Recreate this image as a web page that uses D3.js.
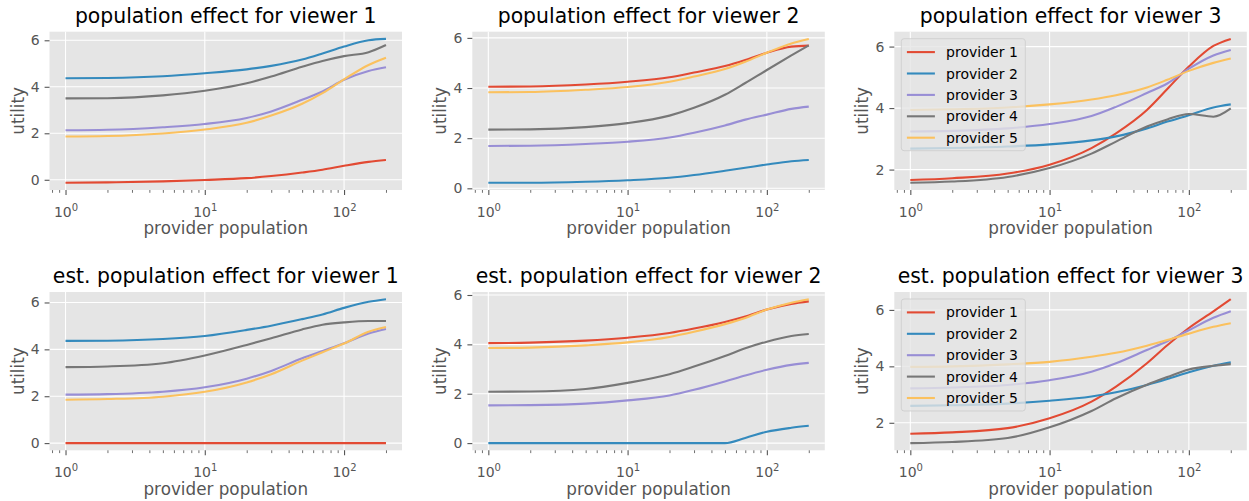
<!DOCTYPE html>
<html>
<head>
<meta charset="utf-8">
<script src="https://cdn.jsdelivr.net/npm/d3@7"></script>
<style>
  body { margin: 0; background: #fff; }
  svg { display: block; }
  text { font-family: "DejaVu Sans", sans-serif; }
</style>
</head>
<body>
<svg id="chart" width="1249" height="501"></svg>
<script>
// provider population sampled on the x axis
const populations = [1, 2, 5, 10, 20, 30, 50, 70, 100, 150, 200];
const providers = ["provider 1", "provider 2", "provider 3", "provider 4", "provider 5"];
const colors = ["#E24A33", "#348ABD", "#988ED5", "#777777", "#FBC15E"];
const titles = [
  "population effect for viewer 1", "population effect for viewer 2", "population effect for viewer 3",
  "est. population effect for viewer 1", "est. population effect for viewer 2", "est. population effect for viewer 3"
];
const xMajorTicks = [1, 10, 100];
const xMinorTicks = [0.8, 0.9, 2, 3, 4, 5, 6, 7, 8, 9, 20, 30, 40, 50, 60, 70, 80, 90, 200];
const yTickValues = [0, 2, 4, 6];

// utility, one row per provider
const popViewer1 = [
  [-0.13, -0.11, -0.07, -0.01, 0.07, 0.16, 0.31, 0.43, 0.60, 0.77, 0.85],
  [4.37, 4.38, 4.45, 4.58, 4.75, 4.90, 5.17, 5.43, 5.73, 6.00, 6.06],
  [2.13, 2.15, 2.26, 2.40, 2.66, 2.94, 3.44, 3.80, 4.30, 4.68, 4.84],
  [3.50, 3.51, 3.63, 3.83, 4.15, 4.44, 4.86, 5.11, 5.32, 5.49, 5.80],
  [1.86, 1.88, 1.99, 2.16, 2.45, 2.76, 3.27, 3.73, 4.32, 4.94, 5.25]
];
const popViewer2 = [
  [4.05, 4.06, 4.14, 4.25, 4.43, 4.62, 4.88, 5.12, 5.41, 5.65, 5.69],
  [0.22, 0.22, 0.26, 0.32, 0.42, 0.53, 0.70, 0.82, 0.95, 1.08, 1.13],
  [1.69, 1.70, 1.77, 1.86, 2.03, 2.22, 2.51, 2.74, 2.94, 3.17, 3.26],
  [2.34, 2.35, 2.44, 2.60, 2.90, 3.21, 3.73, 4.20, 4.72, 5.30, 5.70],
  [3.83, 3.84, 3.93, 4.04, 4.25, 4.46, 4.76, 5.05, 5.41, 5.78, 5.96]
];
const popViewer3 = [
  [1.66, 1.72, 1.87, 2.16, 2.70, 3.18, 3.94, 4.62, 5.35, 6.02, 6.25],
  [2.68, 2.70, 2.75, 2.82, 2.95, 3.08, 3.34, 3.56, 3.77, 4.02, 4.12],
  [3.24, 3.26, 3.34, 3.48, 3.74, 4.04, 4.49, 4.80, 5.28, 5.71, 5.89],
  [1.57, 1.61, 1.76, 2.05, 2.52, 2.91, 3.40, 3.63, 3.81, 3.72, 3.99],
  [3.94, 3.96, 4.02, 4.12, 4.28, 4.42, 4.67, 4.92, 5.21, 5.47, 5.61]
];
const estViewer1 = [
  [0, 0, 0, 0, 0, 0, 0, 0, 0, 0, 0],
  [4.36, 4.37, 4.44, 4.57, 4.83, 5.01, 5.29, 5.49, 5.77, 6.03, 6.14],
  [2.07, 2.09, 2.19, 2.38, 2.75, 3.08, 3.62, 3.93, 4.26, 4.68, 4.87],
  [3.24, 3.27, 3.41, 3.74, 4.19, 4.47, 4.85, 5.05, 5.15, 5.21, 5.21],
  [1.85, 1.88, 1.98, 2.19, 2.59, 2.94, 3.52, 3.88, 4.25, 4.75, 4.95]
];
const estViewer2 = [
  [4.05, 4.07, 4.15, 4.27, 4.46, 4.64, 4.91, 5.13, 5.41, 5.64, 5.74],
  [0, 0, 0, 0, 0, 0, 0, 0.21, 0.46, 0.62, 0.70],
  [1.53, 1.54, 1.60, 1.73, 1.93, 2.16, 2.50, 2.74, 2.97, 3.17, 3.25],
  [2.08, 2.09, 2.19, 2.44, 2.79, 3.10, 3.53, 3.84, 4.11, 4.34, 4.42],
  [3.85, 3.87, 3.96, 4.08, 4.30, 4.51, 4.82, 5.07, 5.41, 5.69, 5.83]
];
const estViewer3 = [
  [1.61, 1.66, 1.81, 2.16, 2.75, 3.28, 4.11, 4.75, 5.36, 5.95, 6.38],
  [2.60, 2.62, 2.68, 2.78, 2.93, 3.08, 3.34, 3.55, 3.79, 4.02, 4.14],
  [3.22, 3.25, 3.34, 3.51, 3.81, 4.11, 4.58, 4.89, 5.28, 5.72, 5.95],
  [1.28, 1.32, 1.46, 1.84, 2.42, 2.87, 3.35, 3.62, 3.89, 4.02, 4.08],
  [3.98, 4.00, 4.07, 4.16, 4.34, 4.48, 4.73, 4.93, 5.16, 5.40, 5.53]
];

const panels = [popViewer1, popViewer2, popViewer3, estViewer1, estViewer2, estViewer3];
const legendPanels = [2, 5];

// layout (pixels)
const colLeft = [49.5, 472.3, 894.3];
const rowTop = [31.7, 292];
const W = 352.5, H = 158.3;
const tickFont = 14, labelFont = 16.8, titleFont = 20.4;
const ink = "#555555";

const svg = d3.select("#chart");

function drawPanel(i, series) {
  const left = colLeft[i % 3];
  const top = rowTop[Math.floor(i / 3)];
  const g = svg.append("g").attr("transform", `translate(${left},${top})`);

  // matplotlib style 5% margins, x in log space
  const lo = Math.log10(d3.min(populations)), hi = Math.log10(d3.max(populations));
  const mx = 0.05 * (hi - lo);
  const x = d3.scaleLog().domain([10 ** (lo - mx), 10 ** (hi + mx)]).range([0, W]);
  const [ymin, ymax] = d3.extent(series.flat());
  const my = 0.05 * (ymax - ymin);
  const y = d3.scaleLinear().domain([ymin - my, ymax + my]).range([H, 0]);

  g.append("rect").attr("width", W).attr("height", H).attr("fill", "#E5E5E5");

  const yt = yTickValues.filter(t => t >= y.domain()[0] && t <= y.domain()[1]);

  // grid
  g.selectAll(".hgrid").data(yt).join("line")
    .attr("x1", 0).attr("x2", W)
    .attr("y1", d => y(d)).attr("y2", d => y(d))
    .attr("stroke", "#fff").attr("stroke-width", 1.1);
  g.selectAll(".vgrid").data(xMajorTicks).join("line")
    .attr("x1", d => x(d)).attr("x2", d => x(d))
    .attr("y1", 0).attr("y2", H)
    .attr("stroke", "#fff").attr("stroke-width", 1.1);

  // lines
  const clipId = "clip" + i;
  g.append("clipPath").attr("id", clipId)
    .append("rect").attr("width", W).attr("height", H);
  const line = d3.line()
    .x((d, j) => x(populations[j]))
    .y(d => y(d))
    .curve(d3.curveMonotoneX);
  g.append("g").attr("clip-path", `url(#${clipId})`)
    .selectAll("path").data(series).join("path")
    .attr("fill", "none")
    .attr("stroke", (d, k) => colors[k])
    .attr("stroke-width", 2.1)
    .attr("stroke-linejoin", "round")
    .attr("d", line);

  // x axis: minor ticks
  const xMinorAxis = d3.axisBottom(x)
    .tickValues(xMinorTicks.filter(t => t >= x.domain()[0] && t <= x.domain()[1]))
    .tickSize(2.8).tickFormat("");
  g.append("g").attr("transform", `translate(0,${H})`).call(xMinorAxis)
    .call(a => a.select(".domain").remove())
    .call(a => a.selectAll("line").attr("stroke", ink).attr("stroke-width", 0.85));

  // x axis: major ticks with 10^n labels
  const xAxis = d3.axisBottom(x).tickValues(xMajorTicks).tickSize(4.9).tickPadding(4.9);
  const xa = g.append("g").attr("transform", `translate(0,${H})`).call(xAxis);
  xa.select(".domain").remove();
  xa.selectAll("line").attr("stroke", ink).attr("stroke-width", 1.1);
  xa.selectAll("text")
    .attr("fill", ink).attr("font-size", tickFont).attr("dy", "1.2em")
    .text("")
    .each(function (d) {
      const t = d3.select(this);
      t.append("tspan").text("10");
      t.append("tspan").attr("font-size", 10).attr("dy", -6).text(Math.round(Math.log10(d)));
    });

  // y axis
  const yAxis = d3.axisLeft(y).tickValues(yt).tickSize(4.9).tickPadding(4.9).tickFormat(d3.format("d"));
  const ya = g.append("g").call(yAxis);
  ya.select(".domain").remove();
  ya.selectAll("line").attr("stroke", ink).attr("stroke-width", 1.1);
  ya.selectAll("text").attr("fill", ink).attr("font-size", tickFont);

  // labels and title
  g.append("text")
    .attr("x", W / 2).attr("y", H + 44.5)
    .attr("text-anchor", "middle").attr("font-size", labelFont).attr("fill", ink)
    .text("provider population");
  g.append("text")
    .attr("transform", `translate(-26,${H / 2}) rotate(-90)`)
    .attr("text-anchor", "middle").attr("font-size", labelFont).attr("fill", ink)
    .text("utility");
  g.append("text")
    .attr("x", W / 2).attr("y", -9)
    .attr("text-anchor", "middle").attr("font-size", titleFont).attr("fill", "#000")
    .text(titles[i]);

  if (legendPanels.includes(i)) {
    const lg = g.append("g").attr("transform", "translate(7,7)");
    const rowH = 21.4;
    lg.append("rect")
      .attr("width", 124).attr("height", 112)
      .attr("rx", 2.8)
      .attr("fill", "#E5E5E5").attr("fill-opacity", 0.8)
      .attr("stroke", "#cccccc").attr("stroke-opacity", 0.8).attr("stroke-width", 1);
    const item = lg.selectAll(".item").data(providers).join("g")
      .attr("transform", (d, k) => `translate(0,${13.4 + k * rowH})`);
    item.append("line")
      .attr("x1", 5.6).attr("x2", 33.6)
      .attr("stroke", (d, k) => colors[k]).attr("stroke-width", 2.1);
    item.append("text")
      .attr("x", 44.8).attr("dy", "0.36em")
      .attr("font-size", tickFont).attr("fill", "#000")
      .text(d => d);
  }
}

panels.forEach((series, i) => drawPanel(i, series));
</script>
</body>
</html>
